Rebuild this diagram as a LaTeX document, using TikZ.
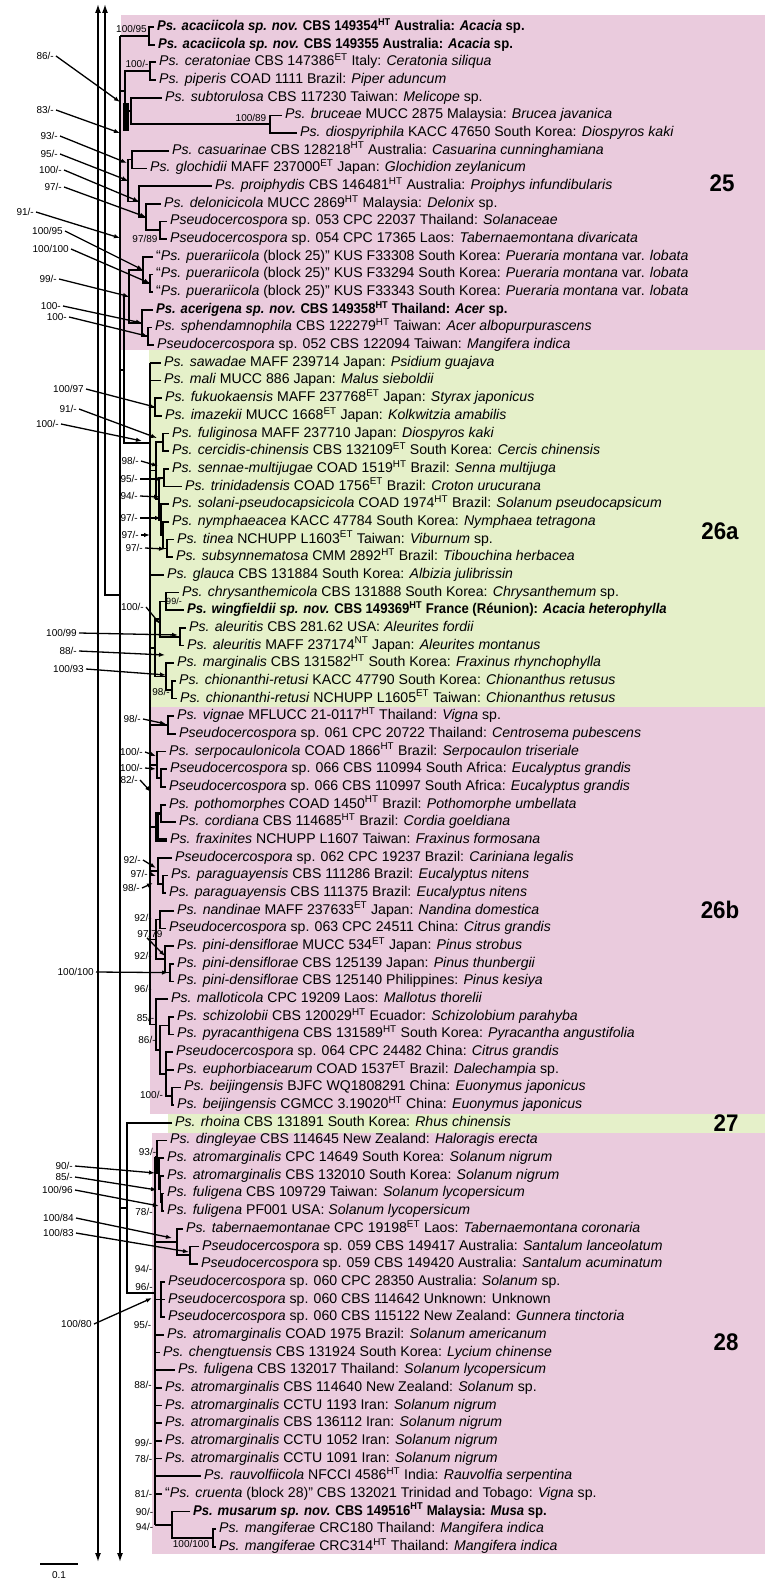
\documentclass[tikz,border=0pt]{standalone}
\usepackage{fontspec}
\setmainfont{Liberation Sans}[BoldFeatures={FakeStretch=0.93},BoldItalicFeatures={FakeStretch=0.93}]
\usepackage{tikz}
\usetikzlibrary{arrows.meta}
\definecolor{cladepink}{RGB}{234,203,221}
\definecolor{cladegreen}{RGB}{229,240,201}
\newcommand{\htype}{\textsuperscript{HT}}
\newcommand{\etype}{\textsuperscript{ET}}
\newcommand{\ntype}{\textsuperscript{NT}}

\begin{document}
\begin{tikzpicture}[x=1pt,y=-1pt,>={Latex[length=9pt,width=6pt]},
    declare function={ry(\i)=27+17.674*(\i-1);},
    branch/.style={line width=1.7pt},
    longline/.style={line width=1.5pt},
    taxon/.style={anchor=west,inner xsep=3pt,inner ysep=0pt,text height=10pt,text depth=3pt,
        font=\fontsize{14.1}{16}\selectfont},
    supp/.style={inner sep=0pt,font=\fontsize{10}{11}\selectfont},
    suparrow/.style={line width=1.3pt,-{Latex[length=6pt,width=4.5pt]}},
    cladelab/.style={font=\fontsize{24}{26}\selectfont\bfseries}]
    \useasboundingbox (0,0) rectangle (773,1581);

    % Clade backgrounds
    \fill[cladepink] (121,15) rectangle (765,350);
    \fill[cladegreen] (149,350) rectangle (765,707);
    \fill[cladepink] (150,707) rectangle (765,1114);
    \fill[cladegreen] (168,1114) rectangle (765,1133);
    \fill[cladepink] (152,1133) rectangle (765,1554);

    \node[cladelab] (c25) at (722,183) {25};
    \node[cladelab] (c26a) at (720,531) {26a};
    \node[cladelab] (c26b) at (720,910) {26b};
    \node[cladelab] (c27) at (726,1123) {27};
    \node[cladelab] (c28) at (726,1342) {28};

    % Taxa, clade 25
    \node[taxon] (t1) at (154,{ry(1)}) {\textbf{\textit{Ps. acaciicola sp. nov.} CBS 149354\htype{} Australia: \textit{Acacia} sp.}};
    \node[taxon] (t2) at (155,{ry(2)}) {\textbf{\textit{Ps. acaciicola sp. nov.} CBS 149355 Australia: \textit{Acacia} sp.}};
    \node[taxon] (t3) at (156,{ry(3)}) {\textit{Ps. ceratoniae} CBS 147386\etype{} Italy: \textit{Ceratonia siliqua}};
    \node[taxon] (t4) at (156,{ry(4)}) {\textit{Ps. piperis} COAD 1111 Brazil: \textit{Piper aduncum}};
    \node[taxon] (t5) at (162,{ry(5)}) {\textit{Ps. subtorulosa} CBS 117230 Taiwan: \textit{Melicope} sp.};
    \node[taxon] (t6) at (282,{ry(6)}) {\textit{Ps. bruceae} MUCC 2875 Malaysia: \textit{Brucea javanica}};
    \node[taxon] (t7) at (297,{ry(7)}) {\textit{Ps. diospyriphila} KACC 47650 South Korea: \textit{Diospyros kaki}};
    \node[taxon] (t8) at (169,{ry(8)}) {\textit{Ps. casuarinae} CBS 128218\htype{} Australia: \textit{Casuarina cunninghamiana}};
    \node[taxon] (t9) at (147,{ry(9)}) {\textit{Ps. glochidii} MAFF 237000\etype{} Japan: \textit{Glochidion zeylanicum}};
    \node[taxon] (t10) at (212,{ry(10)}) {\textit{Ps. proiphydis} CBS 146481\htype{} Australia: \textit{Proiphys infundibularis}};
    \node[taxon] (t11) at (161,{ry(11)}) {\textit{Ps. delonicicola} MUCC 2869\htype{} Malaysia: \textit{Delonix} sp.};
    \node[taxon] (t12) at (167,{ry(12)}) {\textit{Pseudocercospora} sp. 053 CPC 22037 Thailand: \textit{Solanaceae}};
    \node[taxon] (t13) at (167,{ry(13)}) {\textit{Pseudocercospora} sp. 054 CPC 17365 Laos: \textit{Tabernaemontana divaricata}};
    \node[taxon] (t14) at (153,{ry(14)}) {“\textit{Ps. puerariicola} (block 25)” KUS F33308 South Korea: \textit{Pueraria montana} var. \textit{lobata}};
    \node[taxon] (t15) at (153,{ry(15)}) {“\textit{Ps. puerariicola} (block 25)” KUS F33294 South Korea: \textit{Pueraria montana} var. \textit{lobata}};
    \node[taxon] (t16) at (153,{ry(16)}) {“\textit{Ps. puerariicola} (block 25)” KUS F33343 South Korea: \textit{Pueraria montana} var. \textit{lobata}};
    \node[taxon] (t17) at (153,{ry(17)}) {\textbf{\textit{Ps. acerigena sp. nov.} CBS 149358\htype{} Thailand: \textit{Acer} sp.}};
    \node[taxon] (t18) at (152,{ry(18)}) {\textit{Ps. sphendamnophila} CBS 122279\htype{} Taiwan: \textit{Acer albopurpurascens}};
    \node[taxon] (t19) at (154,{ry(19)}) {\textit{Pseudocercospora} sp. 052 CBS 122094 Taiwan: \textit{Mangifera indica}};

    % Taxa, clade 26a
    \node[taxon] (t20) at (161,{ry(20)}) {\textit{Ps. sawadae} MAFF 239714 Japan: \textit{Psidium guajava}};
    \node[taxon] (t21) at (161,{ry(21)}) {\textit{Ps. mali} MUCC 886 Japan: \textit{Malus sieboldii}};
    \node[taxon] (t22) at (162,{ry(22)}) {\textit{Ps. fukuokaensis} MAFF 237768\etype{} Japan: \textit{Styrax japonicus}};
    \node[taxon] (t23) at (162,{ry(23)}) {\textit{Ps. imazekii} MUCC 1668\etype{} Japan: \textit{Kolkwitzia amabilis}};
    \node[taxon] (t24) at (169,{ry(24)}) {\textit{Ps. fuliginosa} MAFF 237710 Japan: \textit{Diospyros kaki}};
    \node[taxon] (t25) at (169,{ry(25)}) {\textit{Ps. cercidis-chinensis} CBS 132109\etype{} South Korea: \textit{Cercis chinensis}};
    \node[taxon] (t26) at (169,{ry(26)}) {\textit{Ps. sennae-multijugae} COAD 1519\htype{} Brazil: \textit{Senna multijuga}};
    \node[taxon] (t27) at (182,{ry(27)}) {\textit{Ps. trinidadensis} COAD 1756\etype{} Brazil: \textit{Croton urucurana}};
    \node[taxon] (t28) at (169,{ry(28)}) {\textit{Ps. solani-pseudocapsicicola} COAD 1974\htype{} Brazil: \textit{Solanum pseudocapsicum}};
    \node[taxon] (t29) at (169,{ry(29)}) {\textit{Ps. nymphaeacea} KACC 47784 South Korea: \textit{Nymphaea tetragona}};
    \node[taxon] (t30) at (174,{ry(30)}) {\textit{Ps. tinea} NCHUPP L1603\etype{} Taiwan: \textit{Viburnum} sp.};
    \node[taxon] (t31) at (173,{ry(31)}) {\textit{Ps. subsynnematosa} CMM 2892\htype{} Brazil: \textit{Tibouchina herbacea}};
    \node[taxon] (t32) at (164,{ry(32)}) {\textit{Ps. glauca} CBS 131884 South Korea: \textit{Albizia julibrissin}};
    \node[taxon] (t33) at (179,{ry(33)}) {\textit{Ps. chrysanthemicola} CBS 131888 South Korea: \textit{Chrysanthemum} sp.};
    \node[taxon] (t34) at (184,{ry(34)}) {\textbf{\textit{Ps. wingfieldii sp. nov.} CBS 149369\htype{} France (Réunion): \textit{Acacia heterophylla}}};
    \node[taxon] (t35) at (186,{ry(35)}) {\textit{Ps. aleuritis} CBS 281.62 USA: \textit{Aleurites fordii}};
    \node[taxon] (t36) at (184,{ry(36)}) {\textit{Ps. aleuritis} MAFF 237174\ntype{} Japan: \textit{Aleurites montanus}};
    \node[taxon] (t37) at (174,{ry(37)}) {\textit{Ps. marginalis} CBS 131582\htype{} South Korea: \textit{Fraxinus rhynchophylla}};
    \node[taxon] (t38) at (176,{ry(38)}) {\textit{Ps. chionanthi-retusi} KACC 47790 South Korea: \textit{Chionanthus retusus}};
    \node[taxon] (t39) at (177,{ry(39)}) {\textit{Ps. chionanthi-retusi} NCHUPP L1605\etype{} Taiwan: \textit{Chionanthus retusus}};

    % Taxa, clade 26b
    \node[taxon] (t40) at (174,{ry(40)}) {\textit{Ps. vignae} MFLUCC 21-0117\htype{} Thailand: \textit{Vigna} sp.};
    \node[taxon] (t41) at (176,{ry(41)}) {\textit{Pseudocercospora} sp. 061 CPC 20722 Thailand: \textit{Centrosema pubescens}};
    \node[taxon] (t42) at (166,{ry(42)}) {\textit{Ps. serpocaulonicola} COAD 1866\htype{} Brazil: \textit{Serpocaulon triseriale}};
    \node[taxon] (t43) at (167,{ry(43)}) {\textit{Pseudocercospora} sp. 066 CBS 110994 South Africa: \textit{Eucalyptus grandis}};
    \node[taxon] (t44) at (166,{ry(44)}) {\textit{Pseudocercospora} sp. 066 CBS 110997 South Africa: \textit{Eucalyptus grandis}};
    \node[taxon] (t45) at (166,{ry(45)}) {\textit{Ps. pothomorphes} COAD 1450\htype{} Brazil: \textit{Pothomorphe umbellata}};
    \node[taxon] (t46) at (176,{ry(46)}) {\textit{Ps. cordiana} CBS 114685\htype{} Brazil: \textit{Cordia goeldiana}};
    \node[taxon] (t47) at (167,{ry(47)}) {\textit{Ps. fraxinites} NCHUPP L1607 Taiwan: \textit{Fraxinus formosana}};
    \node[taxon] (t48) at (172,{ry(48)}) {\textit{Pseudocercospora} sp. 062 CPC 19237 Brazil: \textit{Cariniana legalis}};
    \node[taxon] (t49) at (168,{ry(49)}) {\textit{Ps. paraguayensis} CBS 111286 Brazil: \textit{Eucalyptus nitens}};
    \node[taxon] (t50) at (166,{ry(50)}) {\textit{Ps. paraguayensis} CBS 111375 Brazil: \textit{Eucalyptus nitens}};
    \node[taxon] (t51) at (174,{ry(51)}) {\textit{Ps. nandinae} MAFF 237633\etype{} Japan: \textit{Nandina domestica}};
    \node[taxon] (t52) at (166,{ry(52)}) {\textit{Pseudocercospora} sp. 063 CPC 24511 China: \textit{Citrus grandis}};
    \node[taxon] (t53) at (174,{ry(53)}) {\textit{Ps. pini-densiflorae} MUCC 534\etype{} Japan: \textit{Pinus strobus}};
    \node[taxon] (t54) at (174,{ry(54)}) {\textit{Ps. pini-densiflorae} CBS 125139 Japan: \textit{Pinus thunbergii}};
    \node[taxon] (t55) at (174,{ry(55)}) {\textit{Ps. pini-densiflorae} CBS 125140 Philippines: \textit{Pinus kesiya}};
    \node[taxon] (t56) at (168,{ry(56)}) {\textit{Ps. malloticola} CPC 19209 Laos: \textit{Mallotus thorelii}};
    \node[taxon] (t57) at (174,{ry(57)}) {\textit{Ps. schizolobii} CBS 120029\htype{} Ecuador: \textit{Schizolobium parahyba}};
    \node[taxon] (t58) at (174,{ry(58)}) {\textit{Ps. pyracanthigena} CBS 131589\htype{} South Korea: \textit{Pyracantha angustifolia}};
    \node[taxon] (t59) at (173,{ry(59)}) {\textit{Pseudocercospora} sp. 064 CPC 24482 China: \textit{Citrus grandis}};
    \node[taxon] (t60) at (174,{ry(60)}) {\textit{Ps. euphorbiacearum} COAD 1537\etype{} Brazil: \textit{Dalechampia} sp.};
    \node[taxon] (t61) at (181,{ry(61)}) {\textit{Ps. beijingensis} BJFC WQ1808291 China: \textit{Euonymus japonicus}};
    \node[taxon] (t62) at (174,{ry(62)}) {\textit{Ps. beijingensis} CGMCC 3.19020\htype{} China: \textit{Euonymus japonicus}};

    % Taxa, clades 27 and 28
    \node[taxon] (t63) at (172,{ry(63)}) {\textit{Ps. rhoina} CBS 131891 South Korea: \textit{Rhus chinensis}};
    \node[taxon] (t64) at (167,{ry(64)}) {\textit{Ps. dingleyae} CBS 114645 New Zealand: \textit{Haloragis erecta}};
    \node[taxon] (t65) at (164,{ry(65)}) {\textit{Ps. atromarginalis} CPC 14649 South Korea: \textit{Solanum nigrum}};
    \node[taxon] (t66) at (164,{ry(66)}) {\textit{Ps. atromarginalis} CBS 132010 South Korea: \textit{Solanum nigrum}};
    \node[taxon] (t67) at (164,{ry(67)}) {\textit{Ps. fuligena} CBS 109729 Taiwan: \textit{Solanum lycopersicum}};
    \node[taxon] (t68) at (164,{ry(68)}) {\textit{Ps. fuligena} PF001 USA: \textit{Solanum lycopersicum}};
    \node[taxon] (t69) at (183,{ry(69)}) {\textit{Ps. tabernaemontanae} CPC 19198\etype{} Laos: \textit{Tabernaemontana coronaria}};
    \node[taxon] (t70) at (199,{ry(70)}) {\textit{Pseudocercospora} sp. 059 CBS 149417 Australia: \textit{Santalum lanceolatum}};
    \node[taxon] (t71) at (198,{ry(71)}) {\textit{Pseudocercospora} sp. 059 CBS 149420 Australia: \textit{Santalum acuminatum}};
    \node[taxon] (t72) at (165,{ry(72)}) {\textit{Pseudocercospora} sp. 060 CPC 28350 Australia: \textit{Solanum} sp.};
    \node[taxon] (t73) at (165,{ry(73)}) {\textit{Pseudocercospora} sp. 060 CBS 114642 Unknown: Unknown};
    \node[taxon] (t74) at (165,{ry(74)}) {\textit{Pseudocercospora} sp. 060 CBS 115122 New Zealand: \textit{Gunnera tinctoria}};
    \node[taxon] (t75) at (164,{ry(75)}) {\textit{Ps. atromarginalis} COAD 1975 Brazil: \textit{Solanum americanum}};
    \node[taxon] (t76) at (160,{ry(76)}) {\textit{Ps. chengtuensis} CBS 131924 South Korea: \textit{Lycium chinense}};
    \node[taxon] (t77) at (175,{ry(77)}) {\textit{Ps. fuligena} CBS 132017 Thailand: \textit{Solanum lycopersicum}};
    \node[taxon] (t78) at (162,{ry(78)}) {\textit{Ps. atromarginalis} CBS 114640 New Zealand: \textit{Solanum} sp.};
    \node[taxon] (t79) at (162,{ry(79)}) {\textit{Ps. atromarginalis} CCTU 1193 Iran: \textit{Solanum nigrum}};
    \node[taxon] (t80) at (162,{ry(80)}) {\textit{Ps. atromarginalis} CBS 136112 Iran: \textit{Solanum nigrum}};
    \node[taxon] (t81) at (162,{ry(81)}) {\textit{Ps. atromarginalis} CCTU 1052 Iran: \textit{Solanum nigrum}};
    \node[taxon] (t82) at (162,{ry(82)}) {\textit{Ps. atromarginalis} CCTU 1091 Iran: \textit{Solanum nigrum}};
    \node[taxon] (t83) at (201,{ry(83)}) {\textit{Ps. rauvolfiicola} NFCCI 4586\htype{} India: \textit{Rauvolfia serpentina}};
    \node[taxon] (t84) at (162,{ry(84)}) {“\textit{Ps. cruenta} (block 28)” CBS 132021 Trinidad and Tobago: \textit{Vigna} sp.};
    \node[taxon] (t85) at (190,{ry(85)}) {\textbf{\textit{Ps. musarum sp. nov.} CBS 149516\htype{} Malaysia: \textit{Musa} sp.}};
    \node[taxon] (t86) at (216,{ry(86)}) {\textit{Ps. mangiferae} CRC180 Thailand: \textit{Mangifera indica}};
    \node[taxon] (t87) at (216,{ry(87)}) {\textit{Ps. mangiferae} CRC314\htype{} Thailand: \textit{Mangifera indica}};

    % Internal nodes
    \coordinate (L2top) at (120,35.8);
    \coordinate (L2bot) at (120,1562);
    \coordinate (L1mid) at (105,595);
    \coordinate (n12) at (149,35.8);
    \coordinate (n34) at (150,71.2);
    \coordinate (n67) at (270,124.2);
    \coordinate (n5) at (131,111.0);
    \coordinate (na) at (125,91.1);
    \coordinate (n89) at (132,159.6);
    \coordinate (n1213) at (160,230.3);
    \coordinate (n11) at (146,217.0);
    \coordinate (n10) at (139,201.5);
    \coordinate (n8) at (128,180.6);
    \coordinate (n1516) at (150,283.3);
    \coordinate (n14) at (143,270.0);
    \coordinate (n1819) at (148,336.3);
    \coordinate (n17) at (142,323.0);
    \coordinate (nc) at (129,296.5);
    \coordinate (n2526) at (124,369.8);
    \coordinate (j26) at (150,443);
    \coordinate (sp26top) at (150,{ry(20)});
    \coordinate (sp26bot) at (150,1024.5);
    \coordinate (n2223) at (155,407.0);
    \coordinate (n2425) at (163,442.3);
    \coordinate (n2627) at (164,477.7);
    \coordinate (n3031) at (167,548.4);
    \coordinate (n29) at (163,535.1);
    \coordinate (n28) at (161,519.7);
    \coordinate (n2631) at (159,498.7);
    \coordinate (n2431) at (156,470.5);
    \coordinate (n3334) at (166,601.4);
    \coordinate (n3536) at (180,636.8);
    \coordinate (n3336) at (160,619.1);
    \coordinate (n3839) at (172,689.8);
    \coordinate (n3739) at (166,676.5);
    \coordinate (n3339) at (155,647.8);
    \coordinate (n4041) at (168,725.1);
    \coordinate (n4344) at (161,778.1);
    \coordinate (n4244) at (157,764.9);
    \coordinate (n4546) at (161,813.5);
    \coordinate (n4547) at (157,826.8);
    \coordinate (n4950) at (163,884.2);
    \coordinate (n4850) at (158,871.0);
    \coordinate (n5152) at (160,919.5);
    \coordinate (n5455) at (170,972.6);
    \coordinate (n5355) at (165,959.3);
    \coordinate (n5155) at (156,939.4);
    \coordinate (n5758) at (169,1025.6);
    \coordinate (n6162) at (172,1096.3);
    \coordinate (n5962) at (166,1074.2);
    \coordinate (n5762) at (160,1049.9);
    \coordinate (n5662) at (156,1024.5);
    \coordinate (n2728) at (127,1208.0);
    \coordinate (j28) at (155,1293.2);
    \coordinate (sp28top) at (155,1157.1);
    \coordinate (sp28bot) at (155,1524.9);
    \coordinate (n6768) at (162,1202.3);
    \coordinate (n6668) at (160.5,1189.1);
    \coordinate (n6568) at (159,1173.6);
    \coordinate (n6468) at (157,1157.1);
    \coordinate (n7071) at (190,1255.3);
    \coordinate (n6971) at (177,1242.1);
    \coordinate (n7274) at (161,1299.5);
    \coordinate (n8687) at (213,1538.1);
    \coordinate (n8587) at (172,1524.9);

    % Long lines leaving the picture
    \draw[longline,<->] (98,4) -- (98,1562);
    \draw[longline,->] (L2top |- L1mid) -- (L1mid) -- (105,4);
    \draw[longline,->] (L2top) -- (L2bot);

    % Clade 25
    \draw[branch] (L2top) -- (n12);
    \draw[branch] (t1.west) -| (n12) |- (t2.west);
    \draw[branch] (t3.west) -| (n34) |- (t4.west);
    \draw[branch] (t6.west) -| (n67) |- (t7.west);
    \draw[branch] (t5.west) -| (n5) |- (n67);
    \draw[branch] (n34) -| (na) |- (n5);
    \draw[branch] (na) -- (na -| L2top);
    \fill (123,103) rectangle (129,131);
    \draw[branch] (t8.west) -| (n89) |- (t9.west);
    \draw[branch] (t12.west) -| (n1213) |- (t13.west);
    \draw[branch] (t11.west) -| (n11) |- (n1213);
    \draw[branch] (t10.west) -| (n10) |- (n11);
    \draw[branch] (n89) -| (n8) |- (n10);
    \draw[branch] (n8) -- (n8 -| L2top);
    \draw[branch] (t15.west) -| (n1516) |- (t16.west);
    \draw[branch] (t14.west) -| (n14) |- (n1516);
    \draw[branch] (t18.west) -| (n1819) |- (t19.west);
    \draw[branch] (t17.west) -| (n17) |- (n1819);
    \draw[branch] (n14) -| (nc) |- (n17);
    \draw[branch] (nc) -| (n2526) |- (j26);
    \draw[branch] (n2526) -- (n2526 -| L2top);

    % Clades 26a and 26b
    \draw[branch] (sp26top) -- (sp26bot);
    \foreach \c in {t20.west,t21.west,n2223,n2431,t32.west,n3339,n4041,n4244,n4547,n4850,n5155,n5662}
        \draw[branch] (\c -| sp26top) -- (\c);
    \draw[branch] (t22.west) -| (n2223) |- (t23.west);
    \draw[branch] (t24.west) -| (n2425) |- (t25.west);
    \draw[branch] (t26.west) -| (n2627) |- (t27.west);
    \draw[branch] (t30.west) -| (n3031) |- (t31.west);
    \draw[branch] (t29.west) -| (n29) |- (n3031);
    \draw[branch] (t28.west) -| (n28) |- (n29);
    \draw[branch] (n2627) -| (n2631) |- (n28);
    \draw[branch] (n2425) -| (n2431) |- (n2631);
    \draw[branch] (t33.west) -| (n3334) |- (t34.west);
    \draw[branch] (t35.west) -| (n3536) |- (t36.west);
    \draw[branch] (n3334) -| (n3336) |- (n3536);
    \draw[branch] (t38.west) -| (n3839) |- (t39.west);
    \draw[branch] (t37.west) -| (n3739) |- (n3839);
    \draw[branch] (n3336) -| (n3339) |- (n3739);
    \draw[branch] (t40.west) -| (n4041) |- (t41.west);
    \draw[branch] (t43.west) -| (n4344) |- (t44.west);
    \draw[branch] (t42.west) -| (n4244) |- (n4344);
    \draw[branch] (t45.west) -| (n4546) |- (t46.west);
    \draw[branch,line width=3.5pt] (n4546) -| (n4547) |- (t47.west);
    \draw[branch] (t49.west) -| (n4950) |- (t50.west);
    \draw[branch] (t48.west) -| (n4850) |- (n4950);
    \draw[branch] (t51.west) -| (n5152) |- (t52.west);
    \draw[branch] (t54.west) -| (n5455) |- (t55.west);
    \draw[branch] (t53.west) -| (n5355) |- (n5455);
    \draw[branch] (n5152) -| (n5155) |- (n5355);
    \draw[branch] (t57.west) -| (n5758) |- (t58.west);
    \draw[branch] (t61.west) -| (n6162) |- (t62.west);
    \draw[branch] (t59.west) -| (n5962) |- (n6162);
    \draw[branch] (n5962 |- t60.west) -- (t60.west);
    \draw[branch] (n5758) -| (n5762) |- (n5962);
    \draw[branch] (t56.west) -| (n5662) |- (n5762);

    % Clades 27 and 28
    \draw[branch] (t63.west) -| (n2728) |- (j28);
    \draw[branch] (n2728) -- (n2728 -| L2top);
    \draw[branch] (sp28top) -- (sp28bot);
    \foreach \c in {n6468,n6971,n7274,t75.west,t76.west,t77.west,t78.west,t79.west,t80.west,t81.west,t82.west,t83.west,t84.west,n8587}
        \draw[branch] (\c -| sp28top) -- (\c);
    \draw[branch] (t67.west) -| (n6768) |- (t68.west);
    \draw[branch] (t66.west) -| (n6668) |- (n6768);
    \draw[branch] (t65.west) -| (n6568) |- (n6668);
    \draw[branch] (t64.west) -| (n6468) |- (n6568);
    \draw[branch] (t70.west) -| (n7071) |- (t71.west);
    \draw[branch] (t69.west) -| (n6971) |- (n7071);
    \draw[branch] (t72.west) -| (n7274) |- (t74.west);
    \draw[branch] (n7274 |- t73.west) -- (t73.west);
    \draw[branch] (t86.west) -| (n8687) |- (t87.west);
    \draw[branch] (t85.west) -| (n8587) |- (n8687);

    % Support values beside their nodes
    \node[supp] (q1) at (131.5,29) {100/95};
    \node[supp] (q2) at (137,64) {100/-};
    \node[supp] (q3) at (251,118) {100/89};
    \node[supp] (q4) at (145,239) {97/89};
    \node[supp,font=\fontsize{9}{10}\selectfont] (q5) at (174,601) {99/-};
    \node[supp] (q6) at (161,692) {98/-};
    \node[supp] (q7) at (143,918) {92/-};
    \node[supp] (q8) at (143,956) {92/-};
    \node[supp] (q9) at (143,989) {96/-};
    \node[supp] (q10) at (145.5,1018) {85/-};
    \node[supp] (q11) at (147,1040) {86/-};
    \node[supp] (q12) at (151.5,1095) {100/-};
    \node[supp] (q13) at (147.5,1152) {93/-};
    \node[supp] (q14) at (144,1212) {78/-};
    \node[supp] (q15) at (143.5,1269) {94/-};
    \node[supp] (q16) at (144,1287) {96/-};
    \node[supp] (q17) at (142.5,1325) {95/-};
    \node[supp] (q18) at (143,1385) {88/-};
    \node[supp] (q19) at (143.5,1443) {99/-};
    \node[supp] (q20) at (143.5,1459) {78/-};
    \node[supp] (q21) at (143.5,1494) {81/-};
    \node[supp] (q22) at (144.5,1512) {90/-};
    \node[supp] (q23) at (144.5,1527) {94/-};
    \node[supp] (q24) at (191,1544) {100/100};

    % Support values with pointers
    \coordinate (g1) at (120,102);
    \coordinate (g2) at (120,133);
    \coordinate (g3) at (127,163);
    \coordinate (g7) at (120,238);
    \coordinate (g14) at (157,438);
    \coordinate (g15) at (142,441);
    \coordinate (g16) at (158,466);
    \coordinate (g17) at (162,479);
    \coordinate (g18) at (160,497);
    \coordinate (g19) at (161,518);
    \coordinate (g20) at (150,535);
    \coordinate (g21) at (165,549);
    \coordinate (g22) at (160,624);
    \coordinate (g23) at (178,635);
    \coordinate (g24) at (165,655);
    \coordinate (g25) at (166,675);
    \coordinate (g26) at (166,724);
    \coordinate (g27) at (156,756);
    \coordinate (g28) at (156,769);
    \coordinate (g29) at (151,792);
    \coordinate (g30) at (156,868);
    \coordinate (g31) at (156,876);
    \coordinate (g32) at (153,883);
    \coordinate (g33) at (165,956);
    \coordinate (g34) at (168,972.6);
    \coordinate (g35) at (155,1173);
    \coordinate (g36) at (157,1190);
    \coordinate (g37) at (159,1206);
    \coordinate (g38) at (172,1238);
    \coordinate (g39) at (189,1252);
    \coordinate (g40) at (152,1298);

    \node[supp,anchor=east] (s1) at (54,56) {86/-};
    \node[supp,anchor=east] (s2) at (54,110) {83/-};
    \node[supp,anchor=east] (s3) at (58,136) {93/-};
    \node[supp,anchor=east] (s4) at (58,154) {95/-};
    \node[supp,anchor=east] (s5) at (62,170) {100/-};
    \node[supp,anchor=east] (s6) at (62,187) {97/-};
    \node[supp,anchor=east] (s7) at (34,212) {91/-};
    \node[supp,anchor=east] (s8) at (63,231) {100/95};
    \node[supp,anchor=east] (s9) at (69,249) {100/100};
    \node[supp,anchor=east] (s10) at (57,279) {99/-};
    \node[supp,anchor=east] (s11) at (61,306) {100-};
    \node[supp,anchor=east] (s12) at (67,317) {100-};
    \node[supp,anchor=east] (s13) at (84,389) {100/97};
    \node[supp,anchor=east] (s14) at (77,409) {91/-};
    \node[supp,anchor=east] (s15) at (59,424) {100/-};
    \node[supp,anchor=east] (s16) at (139,461) {98/-};
    \node[supp,anchor=east] (s17) at (138,479) {95/-};
    \node[supp,anchor=east] (s18) at (138,496) {94/-};
    \node[supp,anchor=east] (s19) at (138,518) {97/-};
    \node[supp,anchor=east] (s20) at (139,535) {97/-};
    \node[supp,anchor=east] (s21) at (143,548) {97/-};
    \node[supp,anchor=east] (s22) at (144,607) {100/-};
    \node[supp,anchor=east] (s23) at (77,633) {100/99};
    \node[supp,anchor=east] (s24) at (77,651) {88/-};
    \node[supp,anchor=east] (s25) at (84,669) {100/93};
    \node[supp,anchor=east] (s26) at (141,719) {98/-};
    \node[supp,anchor=east] (s27) at (143,752) {100/-};
    \node[supp,anchor=east] (s28) at (143,768) {100/-};
    \node[supp,anchor=east] (s29) at (138,780) {82/-};
    \node[supp,anchor=east] (s30) at (141,860) {92/-};
    \node[supp,anchor=east] (s31) at (148,874) {97/-};
    \node[supp,anchor=east] (s32) at (140,888) {98/-};
    \node[supp] (s33) at (150,934) {97/79};
    \node[supp,anchor=east] (s34) at (94,972) {100/100};
    \node[supp,anchor=east] (s35) at (73,1166) {90/-};
    \node[supp,anchor=east] (s36) at (73,1177) {85/-};
    \node[supp,anchor=east] (s37) at (73,1190) {100/96};
    \node[supp,anchor=east] (s38) at (74,1218) {100/84};
    \node[supp,anchor=east] (s39) at (74,1233) {100/83};
    \node[supp,anchor=east] (s40) at (92,1324) {100/80};

    \foreach \k in {1,2,3,7,14,15,16,17,18,19,20,21,22,23,24,25,26,27,28,29,30,31,32,34,35,36,37,38,39,40}
        \draw[suparrow] ([xshift=2pt]s\k.east) -- (g\k);
    \draw[suparrow] ([xshift=-3pt]s33.south) -- (g33);
    \draw[suparrow] ([xshift=2pt]s4.east) -- (n8);
    \draw[suparrow] ([xshift=2pt]s5.east) -- (n10);
    \draw[suparrow] ([xshift=2pt]s6.east) -- (n11);
    \draw[suparrow] ([xshift=2pt]s8.east) -- (n14);
    \draw[suparrow] ([xshift=2pt]s9.east) -- (n1516);
    \draw[suparrow] ([xshift=2pt]s10.east) -- (nc);
    \draw[suparrow] ([xshift=2pt]s11.east) -- (n17);
    \draw[suparrow] ([xshift=2pt]s12.east) -- (n1819);
    \draw[suparrow] ([xshift=2pt]s13.east) -- (n2223);

    % Scale bar
    \coordinate (sb1) at (40,1564);
    \coordinate (sb2) at (78,1564);
    \draw[longline] (sb1) -- (sb2);
    \node[supp] (sblab) at (59,1575) {0.1};
\end{tikzpicture}
\end{document}
